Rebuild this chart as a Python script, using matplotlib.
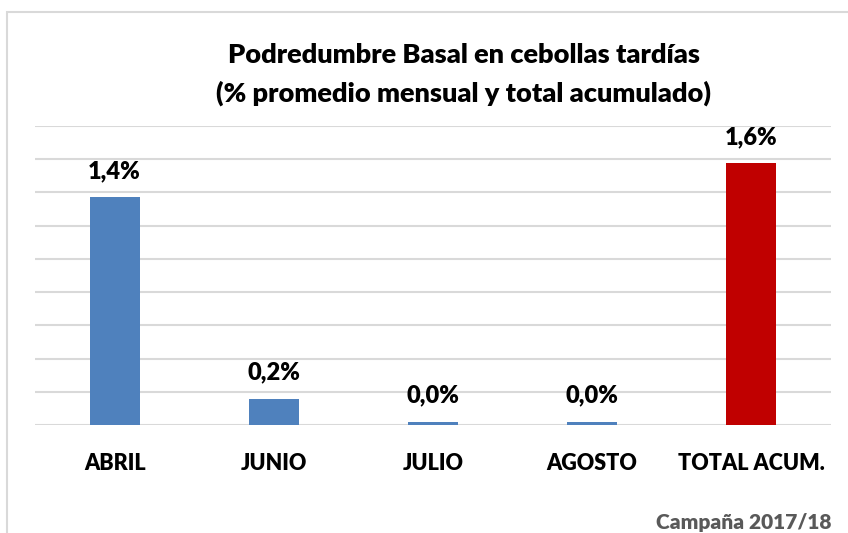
import matplotlib.pyplot as plt
from matplotlib.patches import Rectangle

categories = ['ABRIL', 'JUNIO', 'JULIO', 'AGOSTO', 'TOTAL ACUM.']
values = [1.37, 0.158, 0.018, 0.018, 1.576]
labels = ['1,4%', '0,2%', '0,0%', '0,0%', '1,6%']
colors = ['#4f81bd', '#4f81bd', '#4f81bd', '#4f81bd', '#c00000']

plt.rcParams['font.family'] = ['Lato', 'DejaVu Sans']

fig = plt.figure(figsize=(8.48, 5.33), dpi=100)
# chart border (excel-like frame, cropped at right/bottom)
fig.patches.append(Rectangle((7 / 848, -0.1), 1.2, 1 - 12 / 533 + 0.1,
                             transform=fig.transFigure, fill=False,
                             edgecolor='#d9d9d9', linewidth=1.5))

ax = fig.add_axes([35 / 848, 1 - 425 / 533, 796 / 848, (425 - 126) / 533])
x = range(len(categories))
ax.bar(x, values, width=0.315, color=colors, zorder=3)

for xi, v, lab in zip(x, values, labels):
    ax.annotate(lab, (xi, v), xytext=(0, 11), textcoords='offset points',
                ha='center', va='bottom', fontsize=17, fontweight='heavy')

ax.set_xlim(-0.5, len(categories) - 0.5)
ax.set_ylim(0, 1.8)
ax.set_yticks([i * 0.2 for i in range(10)])
ax.yaxis.grid(True, color='#d9d9d9', linewidth=1.5, zorder=0)
ax.tick_params(axis='y', left=False, labelleft=False)
ax.tick_params(axis='x', length=0, pad=20)
ax.set_xticks(list(x))
ax.set_xticklabels(categories, fontsize=15.5, fontweight='heavy')
for s in ax.spines.values():
    s.set_visible(False)

fig.text(464 / 848, 1 - 55 / 533, 'Podredumbre Basal en cebollas tardías',
         ha='center', va='center', fontsize=19.5, fontweight='heavy')
fig.text(464 / 848, 1 - 93 / 533, '(% promedio mensual y total acumulado)',
         ha='center', va='center', fontsize=19.5, fontweight='heavy')
fig.text(832 / 848, 1 - 522 / 533, 'Campaña 2017/18', ha='right', va='center',
         fontsize=15, fontweight='heavy', color='#595959')

fig.savefig('out.png', dpi=100)
